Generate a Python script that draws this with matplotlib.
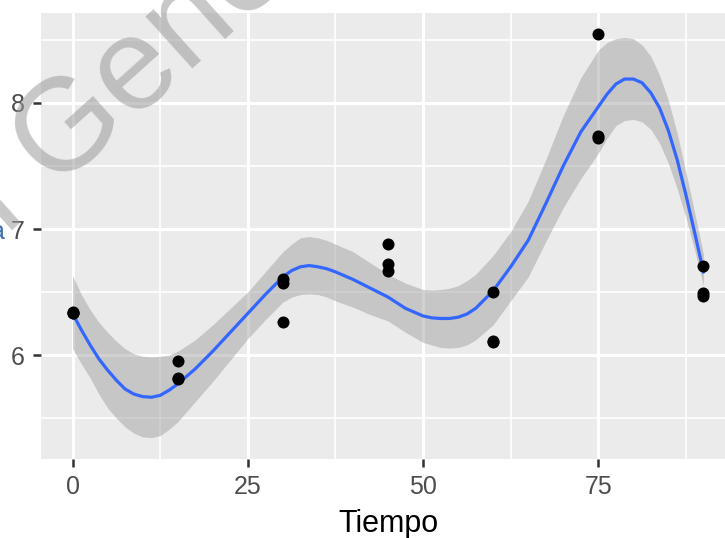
import matplotlib.pyplot as plt

plt.rcParams['font.family'] = ['Liberation Sans', 'DejaVu Sans']

# observed values
tiempo = [0, 0, 0, 15, 15, 15, 30, 30, 30, 45, 45, 45, 60, 60, 60, 75, 75, 75, 90, 90, 90]
valor = [6.33, 6.33, 6.34, 5.95, 5.81, 5.82, 6.60, 6.57, 6.26, 6.88, 6.72, 6.67,
         6.50, 6.11, 6.10, 8.55, 7.74, 7.72, 6.71, 6.49, 6.47]

# smoothed trend with its confidence band
t_fit = [0, 1.25, 2.5, 3.75, 5, 6.25, 7.5, 8.75, 10, 11.25, 12.5, 13.75, 15, 17.5, 20,
         22.5, 25, 27.5, 30, 31.25, 32.5, 33.75, 35, 36.25, 37.5, 40, 42.5, 45, 47.5,
         50, 51.25, 52.5, 53.75, 55, 56.25, 57.5, 60, 62.5, 65, 67.5, 70, 72.5, 75,
         76.25, 77.5, 78.75, 80, 81.25, 82.5, 83.75, 85, 86.25, 87.5, 88.75, 90]
y_fit = [6.33, 6.20, 6.08, 5.97, 5.88, 5.80, 5.73, 5.69, 5.67, 5.665, 5.68, 5.72, 5.77,
         5.89, 6.03, 6.18, 6.33, 6.48, 6.62, 6.67, 6.70, 6.71, 6.70, 6.685, 6.66, 6.60,
         6.53, 6.46, 6.37, 6.31, 6.295, 6.29, 6.29, 6.30, 6.325, 6.37, 6.51, 6.70, 6.91,
         7.20, 7.50, 7.77, 7.97, 8.07, 8.15, 8.19, 8.19, 8.16, 8.08, 7.96, 7.78, 7.55,
         7.27, 6.97, 6.66]
y_hi = [6.63, 6.48, 6.36, 6.26, 6.18, 6.11, 6.05, 6.01, 5.99, 5.985, 5.99, 6.00, 6.03,
        6.12, 6.24, 6.37, 6.50, 6.66, 6.82, 6.88, 6.93, 6.94, 6.93, 6.91, 6.88, 6.82,
        6.73, 6.64, 6.57, 6.52, 6.515, 6.52, 6.53, 6.55, 6.59, 6.64, 6.79, 6.98, 7.22,
        7.55, 7.90, 8.20, 8.42, 8.48, 8.51, 8.52, 8.51, 8.46, 8.37, 8.22, 8.02, 7.76,
        7.45, 7.13, 6.80]
y_lo = [6.05, 5.93, 5.82, 5.69, 5.58, 5.50, 5.43, 5.38, 5.35, 5.345, 5.36, 5.41, 5.47,
        5.63, 5.79, 5.96, 6.13, 6.28, 6.42, 6.46, 6.48, 6.485, 6.48, 6.46, 6.43, 6.38,
        6.32, 6.27, 6.18, 6.10, 6.08, 6.06, 6.055, 6.06, 6.08, 6.12, 6.24, 6.43, 6.62,
        6.90, 7.17, 7.40, 7.60, 7.72, 7.82, 7.86, 7.87, 7.85, 7.79, 7.68, 7.52, 7.32,
        7.09, 6.83, 6.55]

x_ticks = [0, 25, 50, 75]
y_ticks = [6, 7, 8]

W, H = 725, 538
fig = plt.figure(figsize=(W / 100, H / 100), dpi=100)
# panel runs past the right edge of the figure
ax = fig.add_axes([41 / W, (H - 459) / H, (735 - 41) / W, (459 - 13) / H])
ax.set_facecolor('#EBEBEB')
for s in ax.spines.values():
    s.set_visible(False)

ax.set_xlim(-4.5, 94.5)
ax.set_ylim(5.175, 8.714)
ax.set_xticks(x_ticks)
ax.set_yticks(y_ticks)
ax.set_xticks([12.5, 37.5, 62.5, 87.5], minor=True)
ax.set_yticks([5.5, 6.5, 7.5, 8.5], minor=True)
ax.grid(which='major', color='white', linewidth=2.2)
ax.grid(which='minor', color='white', linewidth=1.2)
ax.set_axisbelow(True)
ax.tick_params(which='major', length=5.5, width=1.8, color='#333333',
               labelsize=18, labelcolor='#4D4D4D', pad=6)
ax.tick_params(which='minor', length=0)

ax.fill_between(t_fit, y_lo, y_hi, color='#999999', alpha=0.45, linewidth=0, zorder=2)
ax.plot(t_fit, y_fit, color='#3366FF', linewidth=2.3, zorder=3)
ax.scatter(tiempo, valor, s=75, color='black', zorder=4, linewidths=0)

ax.set_xlabel('Tiempo', fontsize=22, color='black', labelpad=7)

# watermark and clipped label fragment
fig.text(6 / W, 1 - 236 / H, 'l Gene', fontsize=95, color='#9a9a9a', alpha=0.55,
         rotation=42, rotation_mode='anchor', ha='left', va='baseline', zorder=10)
fig.text(5 / W, 1 - 232 / H, 'a', fontsize=18, color='#3a6fb0', va='center', ha='right')

fig.savefig('out.png', dpi=100)
